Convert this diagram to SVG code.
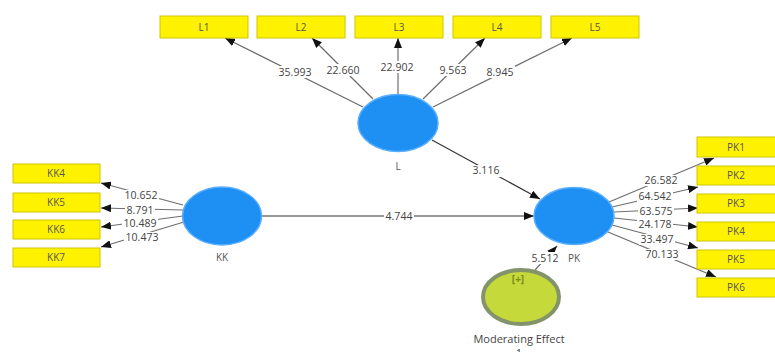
<svg xmlns="http://www.w3.org/2000/svg" width="775" height="352" viewBox="0 0 775 352">
<style>
  .box{fill:#fff200;stroke:#cfc600;stroke-width:1}
  .lv{fill:#1e8ff3;stroke:#5aaeff;stroke-width:1.5}
  .mod{fill:#c5d93a;stroke:#84946a;stroke-width:4}
  .bt{font-family:"Open Sans","Noto Sans",sans-serif;font-size:10px;fill:#555;text-anchor:middle}
  .nt{font-family:"Open Sans","Noto Sans",sans-serif;font-size:10px;fill:#555;text-anchor:middle}
  .lbl{font-family:"Open Sans","Noto Sans",sans-serif;font-size:10.5px;fill:#444;text-anchor:middle}
  .bg{fill:#fff}
  .ln{stroke:#6e6e6e;stroke-width:1.2;fill:none;marker-end:url(#ah)}
  .sl{stroke:#333;stroke-width:1.2;fill:none;marker-end:url(#ah)}
</style>
<defs>
  <marker id="ah" markerUnits="userSpaceOnUse" markerWidth="10" markerHeight="8" refX="10" refY="4" orient="auto">
    <path d="M0,0 L10,4 L0,8 z" fill="#111"/>
  </marker>
</defs>
<rect width="775" height="352" fill="#fff"/>

<g id="connectors">
  <line class="ln" x1="363" y1="107" x2="225" y2="38"/>
  <line class="ln" x1="373" y1="99" x2="312" y2="38"/>
  <line class="ln" x1="398" y1="95" x2="398" y2="38"/>
  <line class="ln" x1="423" y1="99" x2="485" y2="38"/>
  <line class="ln" x1="433" y1="107" x2="572" y2="38"/>
  <line class="ln" x1="183" y1="205" x2="101" y2="183"/>
  <line class="ln" x1="183" y1="210" x2="101" y2="208"/>
  <line class="ln" x1="183" y1="216" x2="101" y2="227"/>
  <line class="ln" x1="184" y1="222" x2="101" y2="247"/>
  <line class="ln" x1="609" y1="202" x2="714" y2="158"/>
  <line class="ln" x1="612" y1="207" x2="698" y2="187"/>
  <line class="ln" x1="614" y1="212" x2="698" y2="208"/>
  <line class="ln" x1="614" y1="218" x2="698" y2="227"/>
  <line class="ln" x1="612" y1="225" x2="698" y2="248"/>
  <line class="ln" x1="608" y1="232" x2="716" y2="277"/>
  <line class="sl" x1="432" y1="140" x2="540" y2="199"/>
  <line class="sl" x1="262" y1="216" x2="534" y2="216"/>
  <line class="ln" x1="535" y1="270" x2="557" y2="246"/>

  <rect class="bg" x="277" y="66" width="36" height="12"/><text class="lbl" x="295" y="76">35.993</text>
  <rect class="bg" x="325" y="64" width="36" height="12"/><text class="lbl" x="343" y="74">22.660</text>
  <rect class="bg" x="379" y="61" width="36" height="12"/><text class="lbl" x="397" y="71">22.902</text>
  <rect class="bg" x="438" y="64" width="30" height="12"/><text class="lbl" x="453" y="74">9.563</text>
  <rect class="bg" x="485" y="66" width="30" height="12"/><text class="lbl" x="500" y="76">8.945</text>
  <rect class="bg" x="123" y="190" width="36" height="11"/><text class="lbl" x="141" y="199">10.652</text>
  <rect class="bg" x="125" y="205" width="30" height="10"/><text class="lbl" x="140" y="214">8.791</text>
  <rect class="bg" x="122" y="218" width="36" height="10"/><text class="lbl" x="140" y="227">10.489</text>
  <rect class="bg" x="124" y="232" width="36" height="11"/><text class="lbl" x="142" y="241">10.473</text>
  <rect class="bg" x="643" y="175" width="36" height="11"/><text class="lbl" x="661" y="184">26.582</text>
  <rect class="bg" x="637" y="191" width="36" height="11"/><text class="lbl" x="655" y="200">64.542</text>
  <rect class="bg" x="638" y="206" width="36" height="10"/><text class="lbl" x="656" y="215">63.575</text>
  <rect class="bg" x="637" y="219" width="36" height="10"/><text class="lbl" x="655" y="228">24.178</text>
  <rect class="bg" x="639" y="234" width="36" height="11"/><text class="lbl" x="657" y="243">33.497</text>
  <rect class="bg" x="644" y="249" width="36" height="11"/><text class="lbl" x="662" y="258">70.133</text>
  <rect class="bg" x="471" y="165" width="30" height="12"/><text class="lbl" x="486" y="174">3.116</text>
  <rect class="bg" x="384" y="210" width="30" height="12"/><text class="lbl" x="399" y="220">4.744</text>
  <rect class="bg" x="530" y="252" width="30" height="12"/><text class="lbl" x="545" y="262">5.512</text>
</g>

<g id="L1"><rect class="box" x="160" y="16" width="88" height="22"/><text class="bt" x="204" y="31">L1</text></g>
<g id="L2"><rect class="box" x="257" y="16" width="88" height="22"/><text class="bt" x="301" y="31">L2</text></g>
<g id="L3"><rect class="box" x="355" y="16" width="88" height="22"/><text class="bt" x="399" y="31">L3</text></g>
<g id="L4"><rect class="box" x="453" y="16" width="88" height="22"/><text class="bt" x="497" y="31">L4</text></g>
<g id="L5"><rect class="box" x="551" y="16" width="88" height="22"/><text class="bt" x="595" y="31">L5</text></g>

<g id="KK4"><rect class="box" x="13" y="164" width="87" height="19"/><text class="bt" x="56" y="177">KK4</text></g>
<g id="KK5"><rect class="box" x="13" y="193" width="87" height="19"/><text class="bt" x="56" y="206">KK5</text></g>
<g id="KK6"><rect class="box" x="13" y="220" width="87" height="19"/><text class="bt" x="56" y="233">KK6</text></g>
<g id="KK7"><rect class="box" x="13" y="248" width="87" height="19"/><text class="bt" x="56" y="261">KK7</text></g>

<g id="PK1"><rect class="box" x="697" y="137" width="80" height="20"/><text class="bt" x="736" y="151">PK1</text></g>
<g id="PK2"><rect class="box" x="697" y="166" width="80" height="19"/><text class="bt" x="736" y="179">PK2</text></g>
<g id="PK3"><rect class="box" x="697" y="194" width="80" height="19"/><text class="bt" x="736" y="207">PK3</text></g>
<g id="PK4"><rect class="box" x="697" y="222" width="80" height="19"/><text class="bt" x="736" y="235">PK4</text></g>
<g id="PK5"><rect class="box" x="697" y="250" width="80" height="19"/><text class="bt" x="736" y="263">PK5</text></g>
<g id="PK6"><rect class="box" x="697" y="278" width="80" height="19"/><text class="bt" x="736" y="291">PK6</text></g>

<g id="L"><ellipse class="lv" cx="398" cy="123" rx="40" ry="28.5"/><text class="nt" x="398" y="170">L</text></g>
<g id="KK"><ellipse class="lv" cx="222" cy="216" rx="39.5" ry="29"/><text class="nt" x="222" y="261">KK</text></g>
<g id="PK"><ellipse class="lv" cx="574" cy="216" rx="40" ry="28.5"/><text class="nt" x="574" y="262">PK</text></g>
<g id="ModeratingEffect">
  <ellipse class="mod" cx="521" cy="297" rx="38" ry="27"/>
  <text class="nt" x="518" y="283" style="fill:#7a8a1a;font-weight:bold">[+]</text>
  <text class="nt" x="519" y="343" style="font-size:11px;fill:#444">Moderating Effect<tspan x="519" dy="14">1</tspan></text>
</g>
</svg>
